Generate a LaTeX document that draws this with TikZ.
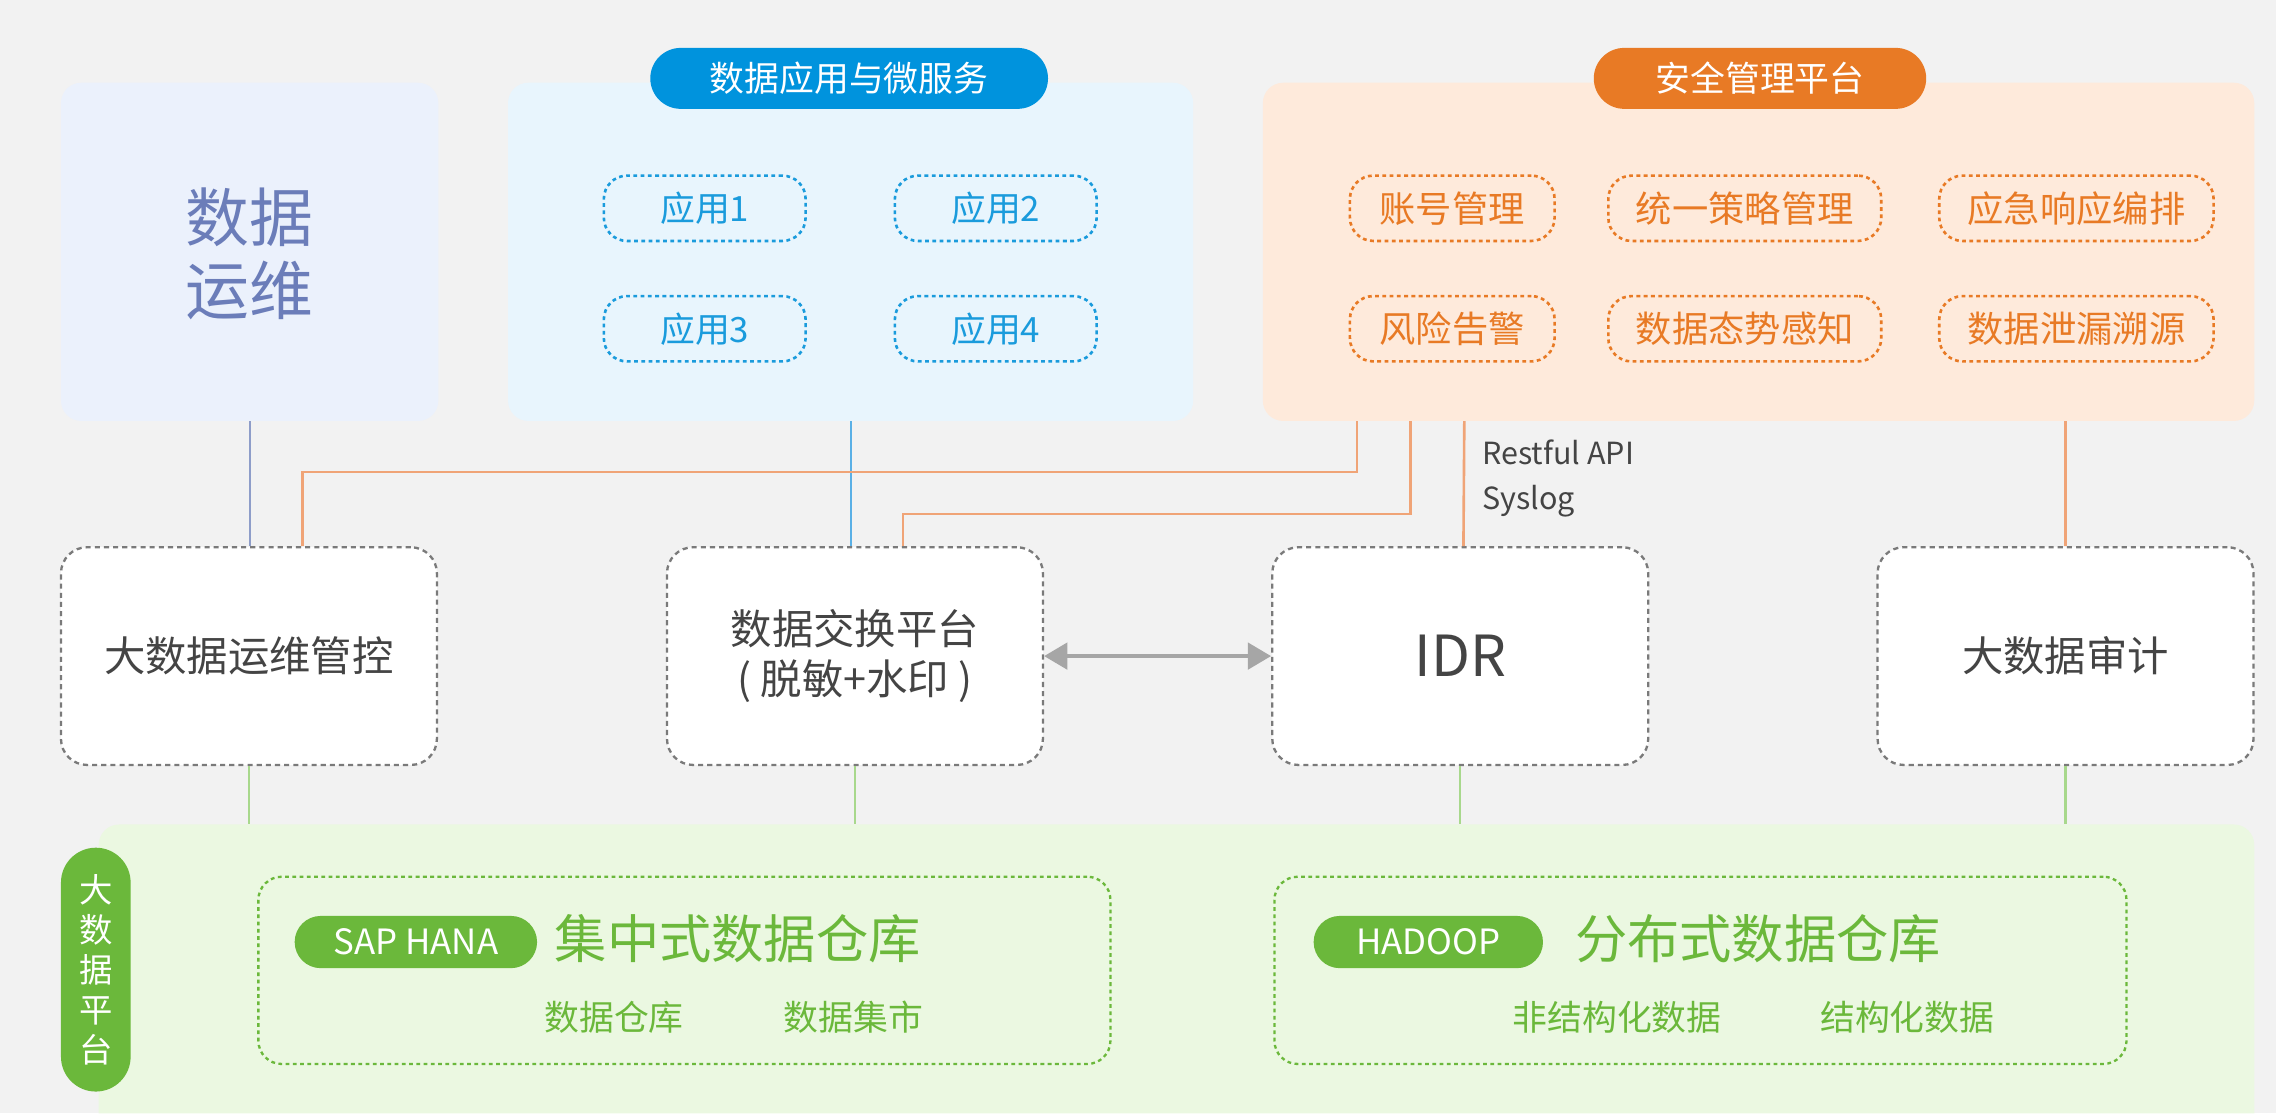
\documentclass[tikz,border=0pt]{standalone}
\usepackage{fontspec}
\newfontfamily\cjk{Noto Sans CJK SC}
\usetikzlibrary{calc,arrows.meta}
\definecolor{bgc}{HTML}{F2F2F2}
\definecolor{opsfill}{HTML}{EBF1FC}
\definecolor{opstext}{HTML}{6B7DB9}
\definecolor{opsline}{HTML}{8E9DC9}
\definecolor{appfill}{HTML}{E8F5FD}
\definecolor{appc}{HTML}{1A9BDC}
\definecolor{apppill}{HTML}{0093DD}
\definecolor{appline}{HTML}{5AB0E6}
\definecolor{secfill}{HTML}{FEEADB}
\definecolor{secc}{HTML}{E87A25}
\definecolor{secline}{HTML}{F0A477}
\definecolor{grnfill}{HTML}{EBF8E1}
\definecolor{grnc}{HTML}{6BB83B}
\definecolor{grnline}{HTML}{A8D88C}
\definecolor{boxborder}{HTML}{7A7A7A}
\definecolor{darktext}{HTML}{444444}
\definecolor{arrowc}{HTML}{A6A6A6}
\tikzset{
  panel/.style={rounded corners=14pt, inner sep=0pt},
  pillbox/.style={rounded corners=21pt, text=white, inner sep=0pt, minimum height=42pt,
    font=\cjk\fontsize{24}{28}\selectfont},
  appbox/.style={draw=appc, line width=1.8pt, dash pattern=on 2.6pt off 2.4pt, rounded corners=16pt,
    minimum height=45pt, minimum width=139pt, inner sep=0pt, text=appc,
    font=\cjk\fontsize{24}{28}\selectfont},
  secbox/.style={draw=secc, line width=1.8pt, dash pattern=on 2.6pt off 2.4pt, rounded corners=16pt,
    minimum height=45pt, inner sep=0pt, text=secc,
    font=\cjk\fontsize{25}{28}\selectfont},
  midbox/.style={draw=boxborder, fill=white, line width=1.6pt, dash pattern=on 3.5pt off 2.8pt,
    rounded corners=18pt, minimum width=259pt, minimum height=150pt, inner sep=0pt,
    text=darktext, align=center, font=\cjk\fontsize{28.5}{34}\selectfont},
  grnbox/.style={draw=grnc, line width=1.6pt, dash pattern=on 2.6pt off 2.4pt, rounded corners=16pt,
    minimum width=587pt, minimum height=129pt, inner sep=0pt},
  grnpill/.style={fill=grnc, rounded corners=18pt, minimum height=36pt, inner sep=0pt, text=white,
    font=\cjk\fontsize{24}{28}\selectfont},
  bigtext/.style={text=grnc, inner sep=0pt, font=\cjk\fontsize{36}{42}\selectfont},
  smalltext/.style={text=grnc, inner sep=0pt, font=\cjk\fontsize{24}{28}\selectfont},
  conn/.style={line width=1.5pt},
  orconn/.style={secline, line width=1.8pt},
}
\begin{document}
\begin{tikzpicture}[x=1pt,y=-1pt]
\fill[bgc] (0,0) rectangle (1568,767);
\useasboundingbox (0,0) rectangle (1568,767);

% top panels
\node[panel, fill=opsfill, minimum width=260pt, minimum height=233pt] (ops) at (172,173.5) {};
\node[text=opstext, align=center, font=\cjk\fontsize{44}{50}\selectfont] (opst) at (172,175) {数据\\运维};

\node[panel, fill=appfill, minimum width=472pt, minimum height=233pt] (app) at (586,173.5) {};
\node[pillbox, fill=apppill, minimum width=274pt] (apppill) at (585,54) {数据应用与微服务};
\node[appbox] (a1) at (485.5,143.5) {应用1};
\node[appbox] (a2) at (686,143.5) {应用2};
\node[appbox] (a3) at (485.5,226.5) {应用3};
\node[appbox] (a4) at (686,226.5) {应用4};

\node[panel, fill=secfill, minimum width=683pt, minimum height=233pt] (sec) at (1211.5,173.5) {};
\node[pillbox, fill=secc, minimum width=229pt] (secpill) at (1212.5,54) {安全管理平台};
\node[secbox, minimum width=141pt] (s1) at (1000.5,143.5) {账号管理};
\node[secbox, minimum width=188pt] (s2) at (1202,143.5) {统一策略管理};
\node[secbox, minimum width=189pt] (s3) at (1430.5,143.5) {应急响应编排};
\node[secbox, minimum width=141pt] (s4) at (1000.5,226.5) {风险告警};
\node[secbox, minimum width=188pt] (s5) at (1202,226.5) {数据态势感知};
\node[secbox, minimum width=189pt] (s6) at (1430.5,226.5) {数据泄漏溯源};

% bottom green platform
\fill[grnfill, rounded corners=14pt] (68,767) -- (68,568) -- (1553,568) -- (1553,767);
\node[fill=grnc, rounded corners=24pt, minimum width=48pt, minimum height=168pt, inner sep=0pt,
  text=white, align=center, font=\cjk\fontsize{23}{27.5}\selectfont] (platpill) at (66,668) {大\\数\\据\\平\\台};

\node[grnbox] (g1) at (471.5,668.5) {};
\node[grnpill, minimum width=167pt] (sap) at (286.5,649) {SAP HANA};
\node[bigtext, anchor=west] (g1t) at (382,647) {集中式数据仓库};
\node[smalltext] (g1a) at (423,701) {数据仓库};
\node[smalltext] (g1b) at (588,701) {数据集市};

\node[grnbox] (g2) at (1171.5,668.5) {};
\node[grnpill, minimum width=158pt] (hadoop) at (984,649) {HADOOP};
\node[bigtext, anchor=west] (g2t) at (1085,647) {分布式数据仓库};
\node[smalltext] (g2a) at (1114,701) {非结构化数据};
\node[smalltext] (g2b) at (1314,701) {结构化数据};

% middle boxes
\node[midbox] (m1) at (171.5,452) {大数据运维管控};
\node[midbox] (m2) at (589,452) {数据交换平台\\( 脱敏+水印 )};
\node[midbox, font=\cjk\fontsize{39}{44}\selectfont] (m3) at (1006,452) {IDR};
\node[midbox] (m4) at (1423,452) {大数据审计};

% connectors top
\draw[conn, opsline] (ops.south) -- (ops.south |- m1.north);
\draw[conn, appline] (app.south) -- (app.south |- m2.north);
\draw[orconn] ($(sec.south west)+(65,0)$) -- ++(0,35) -| ($(m1.north west)+(167,0)$);
\draw[orconn] ($(sec.south west)+(102,0)$) -- ++(0,64) -| ($(m2.north west)+(163.5,0)$);
\draw[orconn] ($(sec.south west)+(139,0)$) -- ($(m3.north west)+(132.5,0)$);
\draw[orconn] (m4.north |- sec.south) -- (m4.north);
\node[anchor=north west, align=left, text=darktext, inner sep=0pt,
  font=\cjk\fontsize{21}{31}\selectfont] (api) at (1021,303) {Restful API\\Syslog};

% exchange arrow
\draw[arrowc, line width=3pt, {Triangle[length=16pt,width=18pt]}-{Triangle[length=16pt,width=18pt]}] (m2.east) -- (m3.west);

% connectors bottom
\draw[conn, grnline] (m1.south) -- (m1.south |- 0,568);
\draw[conn, grnline] (m2.south) -- (m2.south |- 0,568);
\draw[conn, grnline] (m3.south) -- (m3.south |- 0,568);
\draw[conn, grnline] (m4.south) -- (m4.south |- 0,568);
\end{tikzpicture}
\end{document}
